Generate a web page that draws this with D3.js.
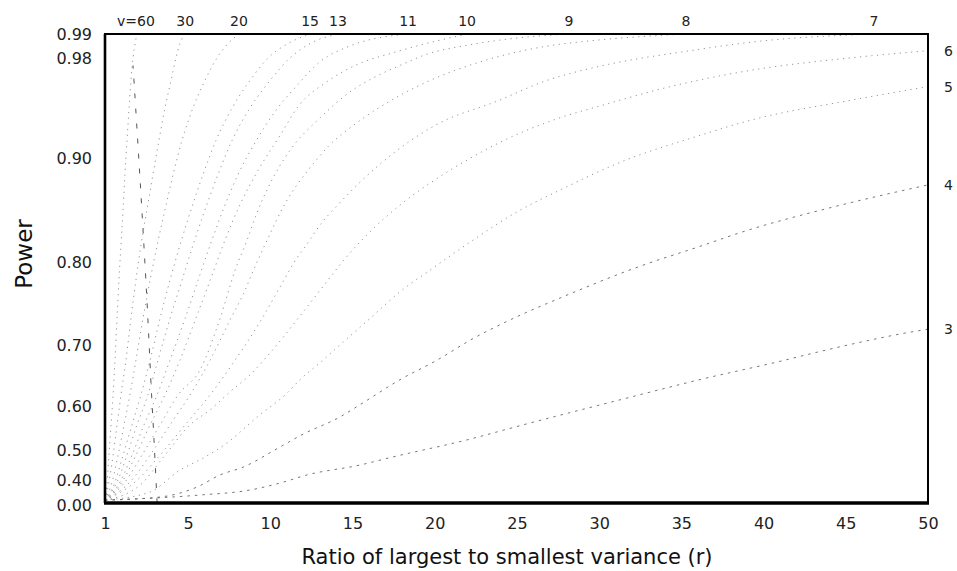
<!DOCTYPE html>
<html>
<head>
<meta charset="utf-8">
<script src="https://cdn.jsdelivr.net/npm/d3@7"></script>
<style>
  body { margin: 0; background: #fff; }
  svg { display: block; }
</style>
</head>
<body>
<div id="chart"></div>
<script>
// tick labels
const rTicks = [1, 5, 10, 15, 20, 25, 30, 35, 40, 45, 50];
const powerTicks = [0.00, 0.40, 0.50, 0.60, 0.70, 0.80, 0.90, 0.98, 0.99];

// power curves, one per degrees of freedom v: [r, power]
const curve_v60 = [[1,0.05],[1.1,0.365],[1.19,0.483],[1.29,0.557],[1.39,0.618],[1.48,0.675],[1.58,0.732],[1.67,0.778],[1.77,0.816],[1.87,0.85],[1.96,0.884],[2.06,0.914],[2.16,0.94],[2.25,0.962],[2.35,0.98],[2.45,0.986],[2.54,0.99]];
const curve_v30 = [[1,0.05],[1.19,0.365],[1.39,0.483],[1.58,0.557],[1.77,0.618],[2.01,0.675],[2.25,0.732],[2.49,0.778],[2.73,0.816],[3.02,0.85],[3.31,0.884],[3.6,0.914],[3.89,0.94],[4.18,0.962],[4.42,0.98],[4.61,0.986],[4.86,0.99]];
const curve_v20 = [[1,0.05],[1.34,0.365],[1.63,0.483],[1.92,0.557],[2.2,0.618],[2.49,0.675],[2.83,0.732],[3.17,0.778],[3.51,0.816],[3.89,0.85],[4.28,0.884],[4.71,0.914],[5.3,0.94],[6.03,0.962],[6.76,0.98],[7.43,0.986],[8.1,0.99]];
const curve_v15 = [[1,0.05],[1.48,0.365],[1.87,0.483],[2.3,0.557],[2.73,0.618],[3.17,0.675],[3.65,0.732],[4.13,0.778],[4.61,0.816],[5.18,0.85],[5.91,0.884],[6.7,0.914],[7.68,0.94],[8.77,0.962],[9.87,0.98],[11.08,0.986],[12.42,0.99]];
const curve_v13 = [[1,0.05],[1.58,0.365],[2.06,0.483],[2.54,0.557],[3.07,0.618],[3.55,0.675],[4.13,0.732],[4.71,0.778],[5.3,0.816],[6.03,0.85],[6.82,0.884],[7.68,0.914],[8.77,0.94],[9.99,0.962],[11.2,0.98],[12.42,0.986],[14.12,0.99]];
const curve_v11 = [[1,0.05],[1.72,0.365],[2.3,0.483],[2.88,0.557],[3.51,0.618],[4.13,0.675],[4.86,0.732],[5.61,0.778],[6.34,0.816],[7.13,0.85],[8.04,0.884],[9.07,0.912],[10.29,0.937],[11.63,0.958],[13.03,0.977],[14.85,0.985],[18.38,0.99]];
const curve_v10 = [[1,0.05],[1.82,0.365],[2.49,0.483],[3.17,0.557],[3.89,0.618],[4.61,0.675],[5.55,0.736],[6.46,0.784],[7.25,0.821],[8.16,0.855],[9.26,0.888],[10.6,0.918],[11.69,0.941],[13.46,0.961],[14.85,0.972],[17.89,0.983],[21.97,0.99]];
const curve_v9 = [[1,0.05],[1.96,0.365],[2.78,0.483],[3.65,0.557],[4.52,0.618],[5.73,0.659],[6.95,0.732],[7.86,0.79],[8.59,0.821],[9.14,0.845],[10.42,0.888],[11.2,0.906],[13.03,0.932],[14.98,0.954],[16.56,0.966],[17.89,0.974],[19.72,0.982],[21.73,0.985],[24.59,0.988],[28.17,0.99]];
const curve_v8 = [[1,0.05],[2.2,0.365],[3.17,0.483],[4.13,0.557],[5.12,0.618],[6.34,0.675],[7.55,0.73],[8.47,0.766],[8.89,0.786],[9.81,0.821],[10.9,0.856],[12.6,0.894],[13.52,0.909],[15.16,0.927],[17.89,0.95],[19.72,0.962],[22.33,0.975],[26.89,0.985],[29.26,0.987],[35.28,0.99]];
const curve_v7 = [[1,0.05],[2.45,0.365],[3.65,0.483],[4.86,0.557],[6.34,0.618],[7.86,0.675],[9.07,0.718],[9.68,0.738],[10.6,0.77],[11.63,0.804],[12.05,0.813],[13.15,0.838],[14.06,0.854],[16.68,0.894],[20.03,0.926],[23.91,0.946],[26.83,0.962],[29.93,0.973],[35.52,0.983],[39.78,0.987],[46.72,0.99]];
const curve_v6 = [[1,0.05],[2.69,0.313],[3.89,0.483],[5.12,0.557],[6.34,0.591],[7.55,0.623],[8.77,0.651],[9.99,0.687],[11.93,0.738],[13.27,0.772],[14.43,0.801],[16.07,0.829],[18.08,0.857],[20.03,0.879],[22.21,0.9],[23.91,0.912],[27.38,0.931],[30.18,0.942],[34.01,0.956],[39.18,0.97],[45.26,0.98],[50,0.983]];
const curve_v5 = [[1,0.05],[3.17,0.191],[4.61,0.433],[5.91,0.473],[7.37,0.516],[9.2,0.575],[11.02,0.621],[11.81,0.643],[13.03,0.671],[14.24,0.7],[16.07,0.732],[17.89,0.764],[19.78,0.791],[22.15,0.819],[25.0,0.848],[27.62,0.869],[31.33,0.896],[36.14,0.918],[39.18,0.93],[45.26,0.946],[50,0.957]];
const curve_v4 = [[1,0.05],[3.65,0.104],[5.55,0.278],[6.95,0.417],[8.35,0.443],[10.6,0.507],[12.0,0.536],[14.24,0.575],[15.46,0.602],[17.89,0.643],[20.14,0.675],[22.27,0.707],[24.46,0.729],[27.8,0.758],[32.37,0.794],[36.14,0.815],[38.75,0.829],[44.04,0.852],[50,0.874]];
const curve_v3 = [[1,0.05],[5.73,0.139],[8.77,0.226],[10.6,0.348],[12.24,0.417],[15.46,0.45],[17.47,0.477],[21.97,0.523],[25.37,0.557],[31.27,0.61],[36.26,0.644],[40.82,0.672],[43.86,0.692],[49.09,0.716],[50,0.719]];

// near-vertical dashed reference line in the lower left
const refLine = [[3.51,0.0],[3.36,0.523],[3.22,0.634],[3.02,0.754],[2.69,0.879],[2.35,0.974]];

// which curves are labelled along the top and which on the right edge
const topLabelled = [60, 30, 20, 15, 13, 11, 10, 9, 8, 7];
const rightLabelled = [6, 5, 4, 3];

const curves = [
  { v: 60, pts: curve_v60 }, { v: 30, pts: curve_v30 }, { v: 20, pts: curve_v20 },
  { v: 15, pts: curve_v15 }, { v: 13, pts: curve_v13 }, { v: 11, pts: curve_v11 },
  { v: 10, pts: curve_v10 }, { v: 9, pts: curve_v9 }, { v: 8, pts: curve_v8 },
  { v: 7, pts: curve_v7 }, { v: 6, pts: curve_v6 }, { v: 5, pts: curve_v5 },
  { v: 4, pts: curve_v4 }, { v: 3, pts: curve_v3 }
];

const W = 957, H = 571;
const margin = { top: 34, right: 29, bottom: 68, left: 105 };
const width = W - margin.left - margin.right;
const height = H - margin.top - margin.bottom;
const font = "'DejaVu Sans', Verdana, sans-serif";

const svg = d3.select("#chart").append("svg")
  .attr("width", W).attr("height", H);
const g = svg.append("g").attr("transform", `translate(${margin.left},${margin.top})`);

// the x axis is stretched a bit between 1 and 5
const x = d3.scaleLinear().domain([1, 5, 50]).range([0, width * 0.1009, width]);
// the power axis is non linear: piecewise between the labelled values
const yFrac = [0, 0.049, 0.113, 0.207, 0.337, 0.514, 0.736, 0.949, 1];
const y = d3.scaleLinear().domain(powerTicks).range(yFrac.map(f => height * (1 - f)));

const line = d3.line()
  .x(d => x(d[0])).y(d => y(d[1]))
  .curve(d3.curveMonotoneX);

g.append("g").selectAll("path")
  .data(curves)
  .join("path")
  .attr("d", d => line(d.pts))
  .attr("fill", "none")
  .attr("stroke", d => d.v <= 4 ? "#666" : "#888")
  .attr("stroke-width", 0.9)
  .attr("stroke-dasharray", d => d.v <= 4 ? "2.5 5" : "1.2 4.5");

g.append("path")
  .attr("d", d3.line().x(d => x(d[0])).y(d => y(d[1])).curve(d3.curveCatmullRom)(refLine))
  .attr("fill", "none")
  .attr("stroke", "#555")
  .attr("stroke-width", 1)
  .attr("stroke-dasharray", "5 10");

// frame
g.append("rect")
  .attr("width", width).attr("height", height)
  .attr("fill", "none").attr("stroke", "#000").attr("stroke-width", 2);
g.append("line")
  .attr("x1", -1).attr("x2", width + 1).attr("y1", height).attr("y2", height)
  .attr("stroke", "#000").attr("stroke-width", 3.5);
g.append("line")
  .attr("x1", 0).attr("x2", 0).attr("y1", 0).attr("y2", height)
  .attr("stroke", "#000").attr("stroke-width", 2.6);

// axes
const xAxis = g.append("g")
  .attr("transform", `translate(0,${height})`)
  .call(d3.axisBottom(x).tickValues(rTicks).tickSize(0).tickPadding(15).tickFormat(d3.format("d")));
xAxis.select(".domain").remove();
xAxis.selectAll("text").style("font-family", font).style("font-size", "16px").attr("fill", "#222");

const yAxis = g.append("g")
  .call(d3.axisLeft(y).tickValues(powerTicks).tickSize(0).tickPadding(13).tickFormat(d3.format(".2f")));
yAxis.select(".domain").remove();
yAxis.selectAll("text").style("font-family", font).style("font-size", "16px").attr("fill", "#222")
  .attr("dy", d => d === 0 ? "0.45em" : "0.36em");

// curve labels
const lastOf = v => curves.find(c => c.v === v).pts.slice(-1)[0];

g.append("g").selectAll("text")
  .data(topLabelled)
  .join("text")
  .attr("x", v => x(lastOf(v)[0]) + (v === 60 ? -1 : 0))
  .attr("y", -8)
  .attr("text-anchor", "middle")
  .style("font-family", font).style("font-size", "14px").attr("fill", "#222")
  .text(v => v === 60 ? "v=60" : v);

g.append("g").selectAll("text")
  .data(rightLabelled)
  .join("text")
  .attr("x", width + 16)
  .attr("y", v => y(lastOf(v)[1]))
  .attr("dy", "0.36em")
  .style("font-family", font).style("font-size", "14px").attr("fill", "#222")
  .text(v => v);

// axis titles
svg.append("text")
  .attr("x", 507)
  .attr("y", 564)
  .attr("text-anchor", "middle")
  .style("font-family", font).style("font-size", "21px").attr("fill", "#111")
  .text("Ratio of largest to smallest variance (r)");

svg.append("text")
  .attr("transform", `translate(32,254) rotate(-90)`)
  .attr("text-anchor", "middle")
  .style("font-family", font).style("font-size", "23px").attr("fill", "#111")
  .text("Power");
</script>
</body>
</html>
